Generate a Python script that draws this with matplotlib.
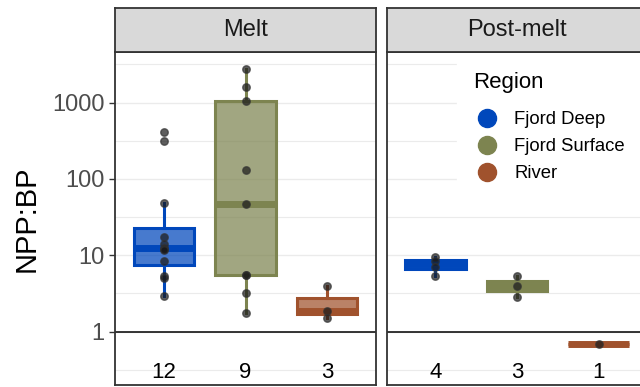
import numpy as np
import matplotlib
matplotlib.use("Agg")
import matplotlib.pyplot as plt
from matplotlib.cbook import boxplot_stats
from matplotlib.lines import Line2D

plt.rcParams['font.family'] = ['Liberation Sans', 'DejaVu Sans']

# NPP:BP ratios per region, melt and post-melt season
regions = ['Fjord Deep', 'Fjord Surface', 'River']
colors = ['#0047BB', '#7D8450', '#A0522D']

melt_deep = [407, 310, 49, 17.3, 14.2, 12.6, 12.2, 11.8, 8.4, 5.3, 5.0, 2.94]
melt_surface = [2740, 1610, 1060, 131, 46.5, 5.5, 5.5, 3.24, 1.75]
melt_river = [4.0, 1.87, 1.53]

post_deep = [9.6, 8.4, 7.0, 5.3]
post_surface = [5.33, 4.0, 2.82]
post_river = [0.68]

panels = [('Melt', [melt_deep, melt_surface, melt_river]),
          ('Post-melt', [post_deep, post_surface, post_river])]

W, H = 640, 387
fig = plt.figure(figsize=(W / 100, H / 100), dpi=100)

ymin, ymax = 0.2, 4600
dark = '#333333'

for i, (season, groups) in enumerate(panels):
    left = (115 if i == 0 else 386.5) / W
    width = 261 / W
    ax = fig.add_axes([left, 1 - 385 / H, width, 333 / H])
    strip = fig.add_axes([left, 1 - 52 / H, width, 44 / H])

    ax.set_yscale('log')
    ax.set_ylim(ymin, ymax)
    ax.set_xlim(0.4, 3.6)

    # grid: decades plus half-decade minor lines
    for k in range(-1, 4):
        ax.axhline(10.0 ** k, color='#EBEBEB', lw=1.0, zorder=0)
        ax.axhline(10.0 ** (k + 0.5), color='#EBEBEB', lw=0.8, zorder=0)
    ax.axhline(1, color='black', lw=1.1, zorder=1)

    for j, (vals, col) in enumerate(zip(groups, colors)):
        pos = j + 1
        # quartiles on the log scale, back-transformed
        st = boxplot_stats(np.log10(vals), whis=1.5)[0]
        for key in ('med', 'q1', 'q3', 'whislo', 'whishi', 'mean'):
            st[key] = 10 ** st[key]
        st['fliers'] = []
        bp = ax.bxp([st], positions=[pos], widths=0.74, patch_artist=True,
                    showfliers=False, showcaps=False, manage_ticks=False)
        for b in bp['boxes']:
            b.set_facecolor(matplotlib.colors.to_rgba(col, 0.72))
            b.set_edgecolor(col)
            b.set_linewidth(2.2)
            b.set_zorder(2)
        for m in bp['medians']:
            m.set_color(col)
            m.set_linewidth(5.0)
            m.set_solid_capstyle('butt')
            m.set_zorder(3)
        for w in bp['whiskers']:
            w.set_color(col)
            w.set_linewidth(2.2)
            w.set_zorder(2)

        ax.plot([pos] * len(vals), vals, 'o', ms=5.4, color='#1a1a1a',
                mec='#333333', alpha=0.7, zorder=4)
        ax.text(pos, 0.29, str(len(vals)), ha='center', va='center',
                fontsize=16, color='black')

    ax.set_xticks([])
    for s in ax.spines.values():
        s.set_color(dark)
        s.set_linewidth(1.3)

    if i == 0:
        ax.set_yticks([1, 10, 100, 1000])
        ax.set_yticklabels(['1', '10', '100', '1000'])
        ax.tick_params(axis='y', which='major', labelsize=17,
                       labelcolor='#4D4D4D', color=dark, length=4, width=1)
        ax.tick_params(axis='y', which='minor', left=False)
        ax.yaxis.set_minor_formatter(matplotlib.ticker.NullFormatter())
        ax.set_ylabel('NPP:BP', fontsize=21, labelpad=8)
    else:
        ax.set_yticks([])
        ax.tick_params(axis='y', which='minor', left=False)
        ax.yaxis.set_minor_formatter(matplotlib.ticker.NullFormatter())
        handles = [Line2D([], [], ls='none', marker='o', ms=13, color=c)
                   for c in colors]
        leg = ax.legend(handles, regions, title='Region', loc='upper left',
                        bbox_to_anchor=(0.27, 0.99), borderaxespad=0,
                        frameon=True, fontsize=13.3, title_fontsize=16,
                        handletextpad=0.8, labelspacing=0.55,
                        borderpad=0.9, handlelength=1.4)
        leg.get_frame().set_facecolor('white')
        leg.get_frame().set_edgecolor('white')
        leg.get_frame().set_alpha(1)
        leg._legend_box.align = 'left'
        leg._legend_box.sep = 13
        leg.set_zorder(5)

    strip.set_facecolor('#D9D9D9')
    strip.set_xticks([])
    strip.set_yticks([])
    for s in strip.spines.values():
        s.set_color(dark)
        s.set_linewidth(1.3)
    strip.text(0.5, 0.5, season, ha='center', va='center', fontsize=17,
               color='#1A1A1A', transform=strip.transAxes)

fig.savefig('out.png', dpi=100)
